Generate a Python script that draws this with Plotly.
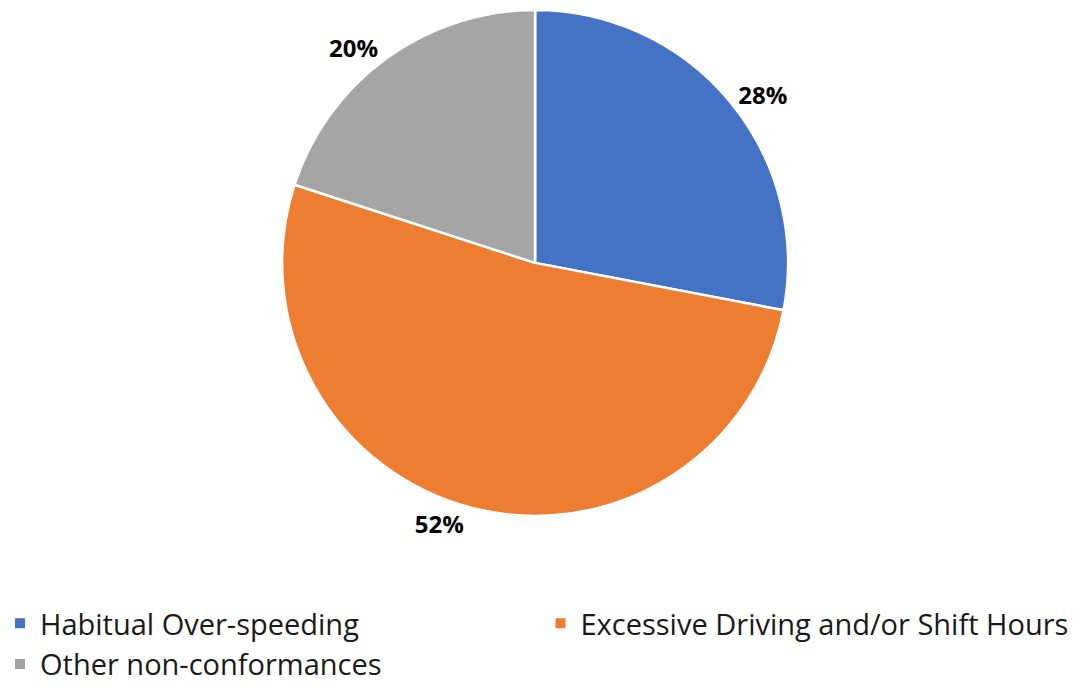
import plotly.graph_objects as go

categories = ["Habitual Over-speeding", "Excessive Driving and/or Shift Hours", "Other non-conformances"]
values = [28, 52, 20]
colors = ["#4472C4", "#ED7D31", "#A5A5A5"]

fig = go.Figure(go.Pie(
    labels=categories,
    values=values,
    sort=False,
    direction="clockwise",
    rotation=0,
    marker=dict(colors=colors, line=dict(color="white", width=2.5)),
    textinfo="percent",
    texttemplate="<b>%{percent:.0%}</b>",
    textposition="outside",
    outsidetextfont=dict(family="Open Sans", size=24, color="black"),
    domain=dict(x=[0.261, 0.729], y=[0.252, 0.986]),
    showlegend=True,
))

fig.update_layout(
    width=1081, height=690,
    margin=dict(l=0, r=0, t=0, b=0),
    paper_bgcolor="white",
    plot_bgcolor="white",
    font=dict(family="Open Sans", size=29, color="#1a1a1a"),
    legend=dict(
        orientation="h",
        x=0.0, y=0.0, xanchor="left", yanchor="bottom",
        entrywidth=0.5, entrywidthmode="fraction",
        font=dict(family="Open Sans", size=29, color="#1a1a1a"),
        traceorder="normal",
        itemsizing="constant",
    ),
)

fig.write_html("out.html")
